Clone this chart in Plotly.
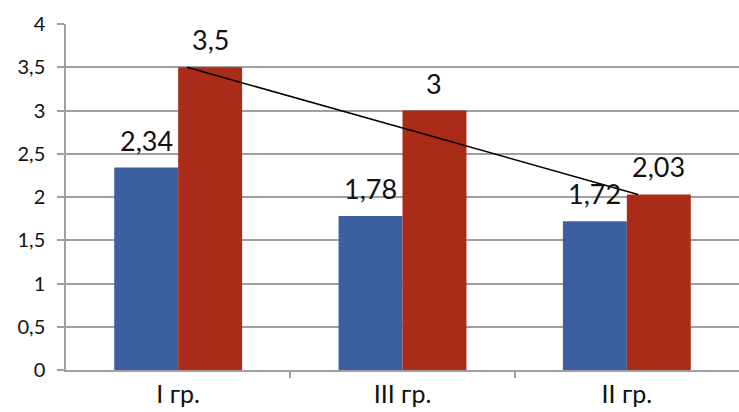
import plotly.graph_objects as go

categories = ["I гр.", "III гр.", "II гр."]
series_blue = [2.34, 1.78, 1.72]
series_red = [3.5, 3.0, 2.03]
y_ticks = [0, 0.5, 1, 1.5, 2, 2.5, 3, 3.5, 4]

def fmt(v):
    return f"{v:g}".replace(".", ",")

xs = list(range(len(categories)))
FONT = "Lato, 'Liberation Sans', sans-serif"
BARGAP = 0.43
half = (1 - BARGAP) / 4  # offset of each bar centre from group centre

fig = go.Figure()
fig.add_trace(go.Bar(x=xs, y=series_blue, marker=dict(color="#3C5F9F", line=dict(width=0))))
fig.add_trace(go.Bar(x=xs, y=series_red, marker=dict(color="#AA2B17", line=dict(width=0))))
# line joining first and last red bar tops
fig.add_trace(go.Scatter(
    x=[xs[0] + 0.04, xs[-1] + 0.05], y=[series_red[0], series_red[-1]],
    mode="lines", line=dict(color="black", width=1.5), hoverinfo="skip",
))

for i, v in enumerate(series_blue):
    fig.add_annotation(x=xs[i] - half, y=v, text=fmt(v), showarrow=False,
                       yanchor="bottom", yshift=9,
                       font=dict(size=27, color="#111111", family=FONT))
for i, v in enumerate(series_red):
    fig.add_annotation(x=xs[i] + half, y=v, text=fmt(v), showarrow=False,
                       yanchor="bottom", yshift=9,
                       font=dict(size=27, color="#111111", family=FONT))

fig.update_layout(
    width=739, height=412,
    margin=dict(l=66, r=0, t=24, b=42),
    paper_bgcolor="white", plot_bgcolor="white",
    showlegend=False,
    barmode="group", bargap=BARGAP, bargroupgap=0,
    font=dict(family=FONT, size=20, color="#111111"),
)
fig.update_xaxes(
    range=[-0.5, 2.5], tickmode="array", tickvals=xs, ticktext=categories,
    ticks="", showgrid=False, zeroline=False, automargin=False,
    showline=True, linecolor="#A0A0A0", linewidth=1.5,
    tickfont=dict(size=25, family=FONT), ticklabelstandoff=1,
    minor=dict(tickmode="array", tickvals=[0.5, 1.5], ticks="outside",
               ticklen=6, tickcolor="#A0A0A0", tickwidth=1.5, showgrid=False),
)
fig.update_yaxes(
    range=[0, 4], tickmode="array", tickvals=y_ticks,
    ticktext=[fmt(v) for v in y_ticks],
    ticks="outside", ticklen=7, tickcolor="#A0A0A0", tickwidth=1.5,
    showgrid=True, gridcolor="#A0A0A0", gridwidth=1.5, zeroline=False,
    showline=True, linecolor="#A0A0A0", linewidth=1.5, automargin=False,
    tickfont=dict(size=20, family=FONT), ticklabelstandoff=8,
)

fig.write_html("out.html", config={"displayModeBar": False},
               post_script="document.body.style.margin='0';")
